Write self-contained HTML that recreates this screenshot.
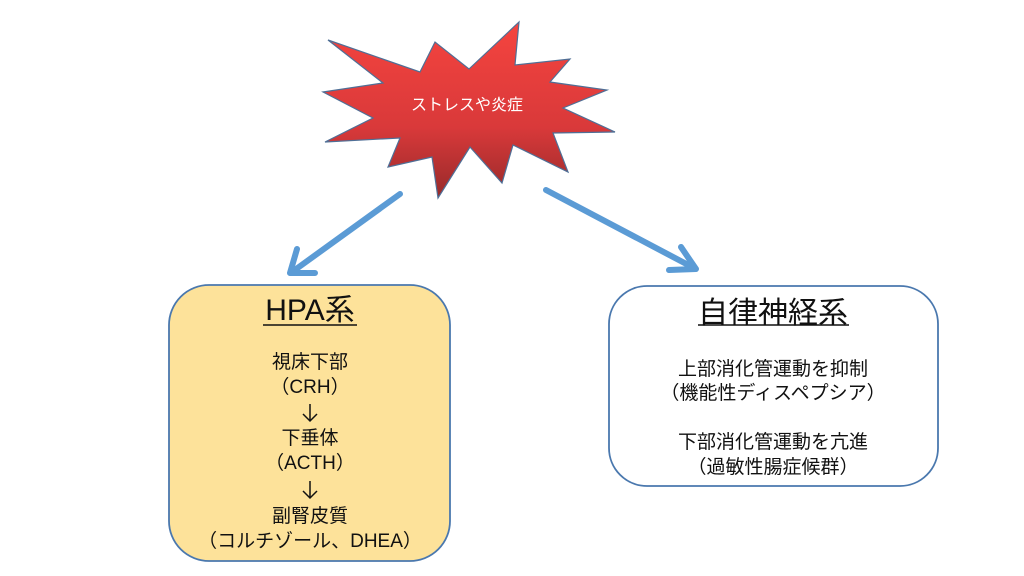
<!DOCTYPE html>
<html><head><meta charset="utf-8"><style>
html,body{margin:0;padding:0;background:#fff;}
svg{display:block;}
text{font-family:"Liberation Sans","Noto Sans CJK JP",sans-serif;fill:#111;}
</style></head><body>
<svg width="1024" height="576" viewBox="0 0 1024 576" xmlns="http://www.w3.org/2000/svg">
<defs>
<linearGradient id="rg" x1="0" y1="0" x2="0" y2="1">
<stop offset="0" stop-color="#f5443f"/><stop offset="0.6" stop-color="#d9393a"/><stop offset="1" stop-color="#972a2a"/>
</linearGradient>
</defs>
<polygon points="328,40 420,72 435,42 469,69 519,22 515,65 570,59 550,82 607,90 563,108 615,132 553,133 568,172 513,145 502,183 470,147 438,198 432,157 388,167 400,138 325,142 373,118 323,92 383,83" fill="url(#rg)" stroke="#4f6f96" stroke-width="1.2" stroke-linejoin="miter"/>
<text x="467" y="110" text-anchor="middle" font-size="16" style="fill:#fff">ストレスや炎症</text>
<g stroke="#5b9bd5" stroke-width="6" fill="none" stroke-linecap="round" stroke-linejoin="round">
<line x1="400" y1="194" x2="292" y2="272"/>
<polyline points="297,249 290,273 315,273"/>
<line x1="546" y1="190" x2="694" y2="268"/>
<polyline points="681,247 696,269 669,270"/>
</g>
<rect x="169" y="285" width="281" height="276" rx="40" fill="#fde29a" stroke="#4a78ae" stroke-width="1.8"/>
<rect x="609" y="286" width="329" height="200" rx="38" fill="#fff" stroke="#4a78ae" stroke-width="1.8"/>
<text x="310" y="320" text-anchor="middle" font-size="30">HPA系</text>
<line x1="263" y1="325" x2="357" y2="325" stroke="#111" stroke-width="1.5"/>
<g font-size="19" text-anchor="middle">
<text x="310" y="368">視床下部</text>
<text x="310" y="393">（CRH）</text>
<text x="310" y="444">下垂体</text>
<text x="310" y="469">（ACTH）</text>
<text x="310" y="522">副腎皮質</text>
<text x="310" y="547">（コルチゾール、DHEA）</text>
</g>
<g stroke="#111" stroke-width="1.5" fill="none">
<line x1="310" y1="404" x2="310" y2="421"/><polyline points="303,414 310,421 317,414"/>
<line x1="310" y1="481" x2="310" y2="498"/><polyline points="303,491 310,498 317,491"/>
</g>
<text x="773" y="323" text-anchor="middle" font-size="30">自律神経系</text>
<line x1="698" y1="325" x2="849" y2="325" stroke="#111" stroke-width="1.5"/>
<g font-size="19" text-anchor="middle">
<text x="773" y="375">上部消化管運動を抑制</text>
<text x="773" y="399">（機能性ディスペプシア）</text>
<text x="773" y="448">下部消化管運動を亢進</text>
<text x="773" y="473">（過敏性腸症候群）</text>
</g>
</svg>
</body></html>
